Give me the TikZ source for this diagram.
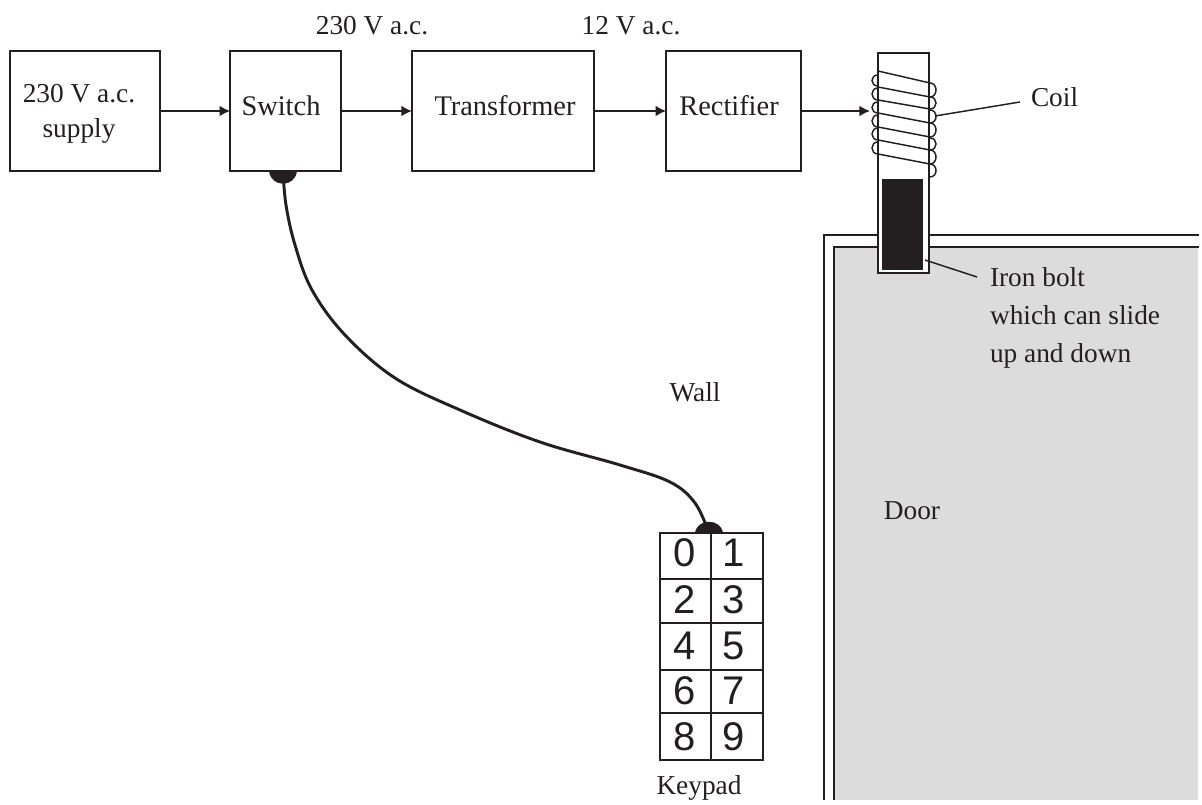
\documentclass[tikz,border=0pt]{standalone}
\usepackage{fontspec}
\setmainfont{Liberation Serif}
\newfontfamily\keyfont{Liberation Sans}
\usetikzlibrary{arrows.meta}
\definecolor{ink}{HTML}{231F20}
\definecolor{doorgrey}{HTML}{DCDCDC}
\tikzset{
  every node/.style={text=ink,inner sep=0pt,outer sep=0pt},
  block/.style={draw=ink,line width=1.4pt,minimum height=90pt},
  blocktext/.style={font=\fontsize{21.3}{24}\selectfont},
  label/.style={font=\fontsize{20.5}{24}\selectfont,align=left},
  flow/.style={draw=ink,line width=1.2pt,-{Latex[length=8pt,width=8pt]}},
  leader/.style={draw=ink,line width=1.1pt},
  wallline/.style={draw=ink,line width=1.3pt},
  turn/.style={draw=ink,line width=1.1pt},
  keycell/.style={draw=ink,line width=1.3pt,anchor=north west},
  keydigit/.style={font=\keyfont\fontsize{30}{32}\selectfont},
}
\begin{document}
\begin{tikzpicture}[x=0.75pt,y=-0.75pt]
\useasboundingbox (0,0) rectangle (1202,805);
\fill[white] (0,0) rectangle (1202,805);
% wall and door
\fill[doorgrey] (834,247) rectangle (1198,800);
\draw[wallline] (824,800) -- (824,235) -- (1199,235);
\draw[wallline] (834,800) -- (834,247) -- (1199,247);
% boxes
\node[block,minimum width=112.5pt] (supply) at (85,111) {};
\node[block,minimum width=83pt] (switch) at (285.5,111) {};
\node[block,minimum width=136.5pt] (transformer) at (503,111) {};
\node[block,minimum width=101pt] (rectifier) at (733.5,111) {};
\node[label,anchor=base] (supplya) at (79,103) {230 V a.c.};
\node[label,anchor=base] (supplyb) at (79,138) {supply};
\node[blocktext] (switchtext) at (281,106) {Switch};
\node[blocktext] (transformertext) at (505,106) {Transformer};
\node[blocktext] (rectifiertext) at (729,106) {Rectifier};
% tube and bolt
\node[draw=ink,fill=white,line width=1.4pt,minimum width=38pt,minimum height=165pt] (tube) at (903.5,163) {};
\node[fill=ink,minimum width=31pt,minimum height=68pt] (bolt) at (902.5,224.5) {};
% coil
\coordinate (coilin) at (870,111);
\foreach \a/\b in {71/83,87/97,100/109,113/123,127/137,140/150,154/164}
  \draw[turn] (878,\a) -- (930,\b);
\foreach \a/\b in {75/86,88/100,102/113,115/127,128/140,142/154}
  \draw[turn] (878,\a) .. controls (870,\a) and (870,\b) .. (878,\b);
\foreach \a/\b in {83/97,97/109,110/123,123/137,138/150,150/164,164/177}
  \draw[turn] (930,\a) .. controls (938,\a) and (938,\b) .. (930,\b);
% flow arrows
\draw[flow] (supply) -- (switch);
\draw[flow] (switch) -- (transformer);
\draw[flow] (transformer) -- (rectifier);
\draw[flow] (rectifier) -- (coilin);
% labels
\node[label] (v230) at (372,26) {230 V a.c.};
\node[label] (v12) at (631,26) {12 V a.c.};
\node[label,anchor=west] (coil) at (1031,97) {Coil};
\coordinate (coilend) at (935,116);
\draw[leader] (coilend) -- (1020,102);
\node[label,anchor=base west] (irona) at (990,287) {Iron bolt};
\node[label,anchor=base west] (ironb) at (990,325) {which can slide};
\node[label,anchor=base west] (ironc) at (990,363) {up and down};
\coordinate (boltend) at (925,260);
\draw[leader] (boltend) -- (977,277);
\node[label] (wall) at (695,392) {Wall};
\node[label] (door) at (912,511) {Door};
% keypad
\node[keycell,minimum width=38.25pt,minimum height=34.5pt] (k0) at (660,533) {};
\node[keycell,minimum width=39pt,minimum height=34.5pt] (k1) at (711,533) {};
\node[keycell,minimum width=38.25pt,minimum height=33pt] (k2) at (660,579) {};
\node[keycell,minimum width=39pt,minimum height=33pt] (k3) at (711,579) {};
\node[keycell,minimum width=38.25pt,minimum height=35.25pt] (k4) at (660,623) {};
\node[keycell,minimum width=39pt,minimum height=35.25pt] (k5) at (711,623) {};
\node[keycell,minimum width=38.25pt,minimum height=32.25pt] (k6) at (660,670) {};
\node[keycell,minimum width=39pt,minimum height=32.25pt] (k7) at (711,670) {};
\node[keycell,minimum width=38.25pt,minimum height=35.25pt] (k8) at (660,713) {};
\node[keycell,minimum width=39pt,minimum height=35.25pt] (k9) at (711,713) {};
\node[keydigit] (d0) at (685,553) {0};
\node[keydigit] (d1) at (734,553) {1};
\node[keydigit] (d2) at (685,600) {2};
\node[keydigit] (d3) at (734,600) {3};
\node[keydigit] (d4) at (685,646) {4};
\node[keydigit] (d5) at (734,646) {5};
\node[keydigit] (d6) at (685,691) {6};
\node[keydigit] (d7) at (734,691) {7};
\node[keydigit] (d8) at (685,737) {8};
\node[keydigit] (d9) at (734,737) {9};
\node[label] (keypad) at (699,788) {Keypad};
% wire
\coordinate (swcontact) at (283,171);
\coordinate (kpcontact) at (709,533);
\fill[ink] (269,171) .. controls (271,188) and (295,188) .. (297,171) -- cycle;
\fill[ink] (695,533) .. controls (697,518) and (721,518) .. (723,533) -- cycle;
\draw[ink,line width=2.2pt,line join=round] plot[smooth,tension=0.6] coordinates {(swcontact) (286,205) (295,245) (312,290) (345,335) (395,378) (460,410) (540,442) (620,465) (670,482) (695,503) (kpcontact)};
\end{tikzpicture}
\end{document}
